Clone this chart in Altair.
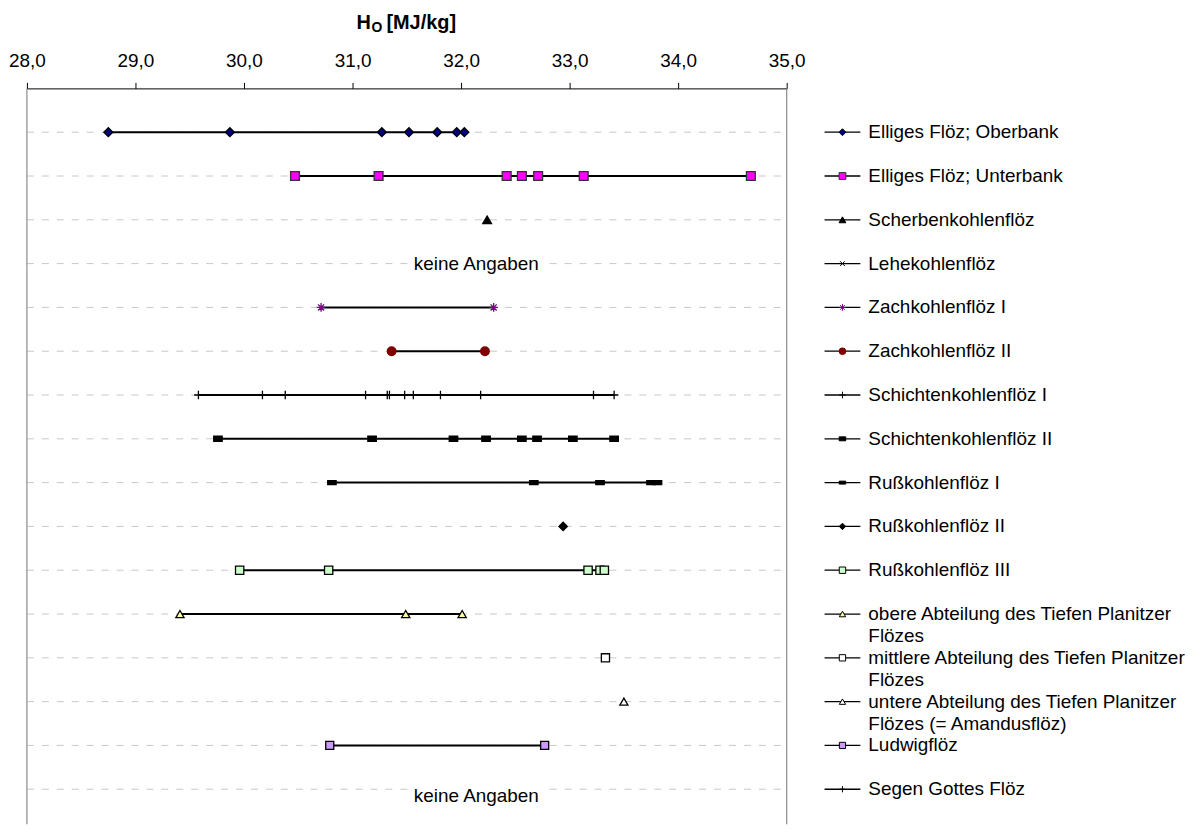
import altair as alt
import pandas as pd

# ---------------- data ----------------
series = [
    "Elliges Flöz; Oberbank",
    "Elliges Flöz; Unterbank",
    "Scherbenkohlenflöz",
    "Lehekohlenflöz",
    "Zachkohlenflöz I",
    "Zachkohlenflöz II",
    "Schichtenkohlenflöz I",
    "Schichtenkohlenflöz II",
    "Rußkohlenflöz I",
    "Rußkohlenflöz II",
    "Rußkohlenflöz III",
    "obere Abteilung des Tiefen Planitzer Flözes",
    "mittlere Abteilung des Tiefen Planitzer Flözes",
    "untere Abteilung des Tiefen Planitzer Flözes (= Amandusflöz)",
    "Ludwigflöz",
    "Segen Gottes Flöz",
]
legend_text = [
    "Elliges Flöz; Oberbank",
    "Elliges Flöz; Unterbank",
    "Scherbenkohlenflöz",
    "Lehekohlenflöz",
    "Zachkohlenflöz I",
    "Zachkohlenflöz II",
    "Schichtenkohlenflöz I",
    "Schichtenkohlenflöz II",
    "Rußkohlenflöz I",
    "Rußkohlenflöz II",
    "Rußkohlenflöz III",
    "obere Abteilung des Tiefen Planitzer\nFlözes",
    "mittlere Abteilung des Tiefen Planitzer\nFlözes",
    "untere Abteilung des Tiefen Planitzer\nFlözes (= Amandusflöz)",
    "Ludwigflöz",
    "Segen Gottes Flöz",
]

oberbank = [28.75, 29.87, 31.27, 31.52, 31.78, 31.96, 32.03]
unterbank = [30.47, 31.24, 32.42, 32.56, 32.71, 33.13, 34.67]
scherben = [32.24]
lehe = []
zach1 = [30.71, 32.30]
zach2 = [31.36, 32.22]
schichten1 = [29.58, 30.17, 30.38, 31.12, 31.32, 31.34, 31.48, 31.56, 31.81, 32.18, 33.22, 33.41]
schichten2 = [29.76, 31.18, 31.93, 32.23, 32.56, 32.70, 33.03, 33.41]
russ1 = [30.81, 32.67, 33.28, 33.75, 33.81]
russ2 = [32.94]
russ3 = [29.96, 30.78, 33.17, 33.28, 33.32]
obere = [29.41, 31.49, 32.01]
mittlere = [33.33]
untere = [33.50]
ludwig = [30.79, 32.77]
segen = []

values = [oberbank, unterbank, scherben, lehe, zach1, zach2, schichten1, schichten2,
          russ1, russ2, russ3, obere, mittlere, untere, ludwig, segen]

no_data_label = "keine Angaben"
no_data_rows = [4, 16.15]
no_data_x = [32.14, 32.14]

x_ticks = [28, 29, 30, 31, 32, 33, 34, 35]

# ---------------- styles ----------------
P_X = "M-0.7,-0.7L0.7,0.7M-0.7,0.7L0.7,-0.7"
P_AST = "M-1,0H1M0,-1V1M-0.7,-0.7L0.7,0.7M-0.7,0.7L0.7,-0.7"
P_PLUS = "M-1,0H1M0,-1V1"
P_RECT_S = "M-1,-0.6H1V0.6H-1Z"
P_RECT_L = "M-1,-0.45H1V0.45H-1Z"

shapes = ["diamond", "square", "triangle-up", P_X, P_AST, "circle", P_PLUS, P_RECT_S,
          P_RECT_L, "diamond", "square", "triangle-up", "square", "triangle-up", "square", P_PLUS]
fills = ["#000080", "#FF00FF", "#000000", "transparent", "transparent", "#800000",
         "transparent", "#000000", "#000000", "#000000", "#CCFFCC", "#FFFF99",
         "#FFFFFF", "#FFFFFF", "#CC99FF", "transparent"]
strokes = ["#000000", "#333333", "#000000", "#000000", "#800080", "#800000",
           "#000000", "#000000", "#000000", "#000000", "#000000", "#000000",
           "#000000", "#000000", "#000000", "#000000"]
sizes = [80, 64, 75, 64, 140, 90, 150, 30, 100, 80, 64, 75, 64, 75, 64, 100]
legend_sizes = [s * 0.6 for s in sizes]

FONT = "Liberation Sans"
ROW_PX = 44
Y_MAX = 16.8
W = 763
H = int(round(Y_MAX * ROW_PX))

rows = list(range(1, len(series) + 1))
pts = pd.DataFrame([
    {"series": s, "row": r, "value": v}
    for s, r, vals in zip(series, rows, values) for v in vals
])
grid_df = pd.DataFrame({"row": rows})
nd_df = pd.DataFrame({"row": no_data_rows, "value": no_data_x, "label": [no_data_label] * 2})

yscale = alt.Scale(domain=[0, Y_MAX], reverse=True, nice=False, zero=False)
xscale = alt.Scale(domain=[28, 35], nice=False, zero=False)
shape_sc = alt.Scale(domain=series, range=shapes)
fill_sc = alt.Scale(domain=series, range=fills)
stroke_sc = alt.Scale(domain=series, range=strokes)
size_sc = alt.Scale(domain=series, range=sizes)
lsize_sc = alt.Scale(domain=series, range=legend_sizes)

X_AXIS = alt.Axis(
    orient="top", values=x_ticks, tickSize=6, tickColor="black", tickWidth=1,
    domainColor="black", domainWidth=1, grid=False, labelFlush=False,
    labelOverlap=False,
    labelExpr="replace(format(datum.value, '.1f'), '.', ',')",
    labelFont=FONT, labelFontSize=19, labelColor="black", labelPadding=12,
    title=None,
)

grid = alt.Chart(grid_df).transform_calculate(
    lo="28", hi="35"
).mark_rule(color="#c8c8c8", strokeWidth=1, strokeDash=[7, 8]).encode(
    x=alt.X("lo:Q", scale=xscale, axis=X_AXIS, title=None),
    x2="hi:Q",
    y=alt.Y("row:Q", scale=yscale, axis=None),
)

nd_halo = alt.Chart(nd_df).mark_text(
    font=FONT, fontSize=19, stroke="white", strokeWidth=12, fill="white"
).encode(
    x=alt.X("value:Q", scale=xscale, title=None),
    y=alt.Y("row:Q", scale=yscale, axis=None),
    text="label:N",
)
nd_text = alt.Chart(nd_df).mark_text(font=FONT, fontSize=19, color="black").encode(
    x=alt.X("value:Q", scale=xscale, title=None),
    y=alt.Y("row:Q", scale=yscale, axis=None),
    text="label:N",
)

lines = alt.Chart(pts).mark_line(color="black", strokeWidth=2).encode(
    x=alt.X("value:Q", scale=xscale, title=None),
    y=alt.Y("row:Q", scale=yscale, axis=None),
    detail="series:N",
    order="value:Q",
)

points = alt.Chart(pts).mark_point(filled=False, strokeWidth=1.3, opacity=1).encode(
    x=alt.X("value:Q", scale=xscale, title=None),
    y=alt.Y("row:Q", scale=yscale, axis=None),
    shape=alt.Shape("series:N", scale=shape_sc, legend=None),
    fill=alt.Fill("series:N", scale=fill_sc, legend=None),
    stroke=alt.Stroke("series:N", scale=stroke_sc, legend=None),
    size=alt.Size("series:N", scale=size_sc, legend=None),
)

frame_df = pd.DataFrame({"xv": [28, 35]})
frame = alt.Chart(frame_df).transform_calculate(
    y0="0", y1=str(Y_MAX)
).mark_rule(color="#8a8a8a", strokeWidth=1.2).encode(
    x=alt.X("xv:Q", scale=xscale, title=None),
    y=alt.Y("y0:Q", scale=yscale, axis=None),
    y2="y1:Q",
)

title_h = alt.Chart(pd.DataFrame({"t": ["H"]})).mark_text(
    font=FONT, fontSize=20, fontWeight="bold", align="left", baseline="alphabetic", color="black"
).encode(x=alt.value(331), y=alt.value(-60), text="t:N")
title_o = alt.Chart(pd.DataFrame({"t": ["O"]})).mark_text(
    font=FONT, fontSize=14, fontWeight="bold", align="left", baseline="alphabetic", color="black"
).encode(x=alt.value(346), y=alt.value(-57), text="t:N")
title_u = alt.Chart(pd.DataFrame({"t": ["[MJ/kg]"]})).mark_text(
    font=FONT, fontSize=20, fontWeight="bold", align="left", baseline="alphabetic", color="black"
).encode(x=alt.value(361), y=alt.value(-60), text="t:N")

main = alt.layer(grid, frame, nd_halo, nd_text, lines, points, title_h, title_o, title_u).properties(
    width=W, height=H
)

# ---------------- legend panel ----------------
LW = 360
lxscale = alt.Scale(domain=[0, LW], nice=False, zero=False)
leg_df = pd.DataFrame({"series": series, "row": rows})
leg_lines = pd.DataFrame([
    {"row": r + i * 0.5, "text": t}
    for r, lab in zip(rows, legend_text) for i, t in enumerate(lab.split("\n"))
])

l_rule = alt.Chart(leg_df).transform_calculate(
    a="0", b="36"
).mark_rule(color="black", strokeWidth=1.3).encode(
    x=alt.X("a:Q", scale=lxscale, axis=None),
    x2="b:Q",
    y=alt.Y("row:Q", scale=yscale, axis=None),
)
l_pts = alt.Chart(leg_df).transform_calculate(
    m="18"
).mark_point(filled=False, strokeWidth=1, opacity=1).encode(
    x=alt.X("m:Q", scale=lxscale, axis=None),
    y=alt.Y("row:Q", scale=yscale, axis=None),
    shape=alt.Shape("series:N", scale=shape_sc, legend=None),
    fill=alt.Fill("series:N", scale=fill_sc, legend=None),
    stroke=alt.Stroke("series:N", scale=stroke_sc, legend=None),
    size=alt.Size("series:N", scale=lsize_sc, legend=None),
)
l_txt = alt.Chart(leg_lines).transform_calculate(
    tx="44"
).mark_text(
    font=FONT, fontSize=19, align="left", baseline="middle", color="black"
).encode(
    x=alt.X("tx:Q", scale=lxscale, axis=None),
    y=alt.Y("row:Q", scale=yscale, axis=None),
    text="text:N",
)
legend = alt.layer(l_rule, l_pts, l_txt).properties(width=LW, height=H)

chart = alt.hconcat(main, legend, spacing=18).resolve_scale(
    x="independent", size="independent"
).properties(
    padding={"left": 0, "top": 3, "right": 0, "bottom": 0},
    background="white",
).configure_view(stroke=None)

chart.save("out.html", embed_options={"renderer": "svg", "actions": False})
